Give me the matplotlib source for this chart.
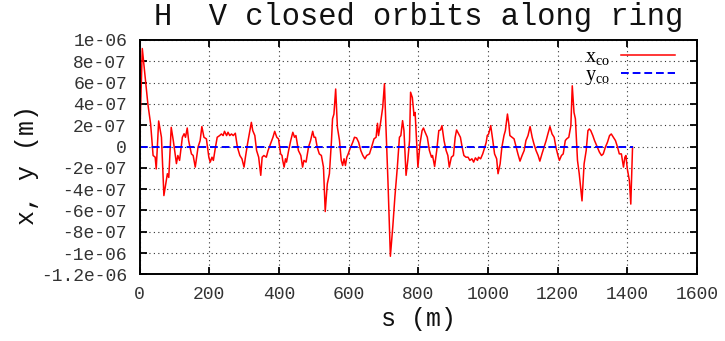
import numpy as np
import matplotlib.pyplot as plt
from matplotlib.ticker import FixedLocator, FixedFormatter

plt.rcParams['mathtext.fontset'] = 'custom'
plt.rcParams['mathtext.rm'] = 'Liberation Serif'
plt.rcParams['mathtext.it'] = 'Liberation Serif'

# position along the ring (m)
s = [0, 8, 24, 32, 39, 45, 48, 55, 63, 70, 74, 80, 84, 91, 97, 106, 110, 115,
     123, 128, 132, 137, 141, 149, 154, 160, 168, 174, 179, 185, 192, 199, 203,
     208, 212, 218, 223, 230, 235, 240, 244, 250, 254, 259, 264, 269, 275, 281,
     288, 294, 300, 304, 310, 315, 321, 325, 331, 336, 342, 348, 352, 357, 364,
     369, 376, 383, 388, 394, 399, 405, 409, 411, 415, 419, 422, 428, 434, 440,
     445, 449, 456, 463, 468, 472, 478, 485, 491, 497, 501, 505, 510, 516, 522,
     528, 533, 539, 545, 551, 554, 558, 563, 568, 574, 579, 583, 587, 591, 595,
     599, 604, 612, 617, 623, 629, 635, 641, 647, 652, 660, 666, 673, 679, 683,
     686, 692, 698, 703, 707, 713, 720, 727, 733, 740, 746, 750, 755, 759, 765,
     770, 775, 778, 783, 788, 791, 796, 799, 805, 811, 815, 819, 826, 832, 838,
     841, 847, 853, 859, 864, 868, 874, 880, 885, 889, 895, 901, 906, 910, 916,
     921, 926, 931, 937, 943, 948, 954, 959, 964, 970, 973, 979, 985, 991, 995,
     998, 1002, 1008, 1014, 1019, 1025, 1029, 1035, 1040, 1046, 1050, 1056, 1060,
     1063, 1069, 1075, 1081, 1086, 1092, 1098, 1104, 1109, 1115, 1121, 1127, 1132,
     1138, 1144, 1149, 1155, 1161, 1167, 1172, 1178, 1184, 1190, 1195, 1201, 1205,
     1211, 1216, 1222, 1226, 1232, 1238, 1242, 1247, 1251, 1257, 1262, 1270, 1276,
     1282, 1287, 1291, 1295, 1301, 1306, 1314, 1320, 1326, 1331, 1337, 1343, 1349,
     1354, 1360, 1366, 1372, 1377, 1383, 1389, 1393, 1396, 1400, 1406, 1410, 1415]

# horizontal closed orbit, in units of 1e-7 m
x_co = [0.0, 9.2, 4.0, 2.1, -0.84, -1.0, -2.1, 2.4, 0.87, -4.6, -3.8, -2.55,
        -2.9, 1.8, 0.56, -1.6, -0.84, -1.3, 0.87, 1.2, 0.87, 1.74, 0.56, -0.69,
        -0.84, -1.93, -0.06, 0.56, 1.87, 0.87, 0.72, -1.0, -1.46, -1.0, -1.3,
        -0.06, 0.87, 1.03, 1.18, 1.03, 1.43, 1.03, 1.34, 1.03, 1.18, 1.03, 1.25,
        -0.06, -0.84, -1.15, -1.93, -1.0, 0.25, 1.18, 2.27, 1.5, 1.03, -0.37,
        -1.0, -2.7, -1.0, -0.84, -1.0, -0.37, 0.25, 0.87, 1.43, 0.87, 0.72,
        -0.69, -0.84, -1.3, -1.93, -1.15, -1.46, -0.37, 0.56, 1.34, 0.87, 1.03,
        -0.37, -0.84, -1.93, -1.3, -1.46, -0.06, 0.56, 1.43, 0.87, 0.87, -0.06,
        -0.69, -0.84, -1.93, -6.1, -3.5, -2.55, 0.56, 2.6, 3.05, 5.4, 1.8, 0.56,
        -1.3, -1.78, -1.15, -1.78, -1.0, -0.69, -0.22, 0.4, 0.87, 0.81, 0.4,
        -0.37, -0.84, -1.15, -0.84, -0.69, -0.06, 0.72, 0.87, 2.18, 1.03, 2.27,
        3.68, 5.9, 2.1, -3.2, -10.3, -7.5, -4.7, -1.93, 0.87, 1.03, 2.43, 1.5,
        -2.7, -1.3, 0.56, 5.1, 4.6, 2.9, 3.2, -0.06, -1.93, 0.25, 1.5, 1.74, 1.4,
        0.87, -0.37, -1.0, -0.84, -1.87, -0.37, 1.5, 1.56, 1.96, 0.56, -0.37,
        -0.84, -1.93, -1.0, -0.84, 0.87, 1.56, 1.18, 0.87, -0.06, -0.84, -1.0,
        -1.0, -1.3, -1.15, -1.46, -1.06, -1.3, -1.0, -1.15, -0.69, -0.06, 0.4,
        1.03, 1.18, 1.96, 0.56, -0.69, -1.15, -2.55, -1.62, -0.06, 1.03, 1.5,
        3.05, 2.12, 1.03, 0.87, 0.72, -0.06, -0.69, -1.37, -0.84, -0.37, 0.56,
        1.03, 1.87, 0.87, 0.25, -0.37, -0.84, -1.37, -0.69, -0.06, 0.56, 1.18,
        1.87, 1.18, 0.87, -0.06, -0.84, -1.3, -0.84, -0.69, 0.56, 0.72, 0.87,
        1.96, 5.7, 3.2, 2.6, -1.3, -2.55, -5.1, -1.62, -0.37, 1.5, 1.65, 1.5,
        1.03, 0.56, -0.06, -0.53, -0.84, -0.69, -0.06, 0.4, 1.03, 1.18, 0.87,
        0.56, -0.06, -0.69, -0.69, -1.93, -1.0, -0.84, -2.1, -3.2, -5.4, -0.06]

# vertical closed orbit (flat)
s_y = [0, 1415]
y_co = [0.0, 0.0]

xticks = [0, 200, 400, 600, 800, 1000, 1200, 1400, 1600]
yticks = [1e-6, 8e-7, 6e-7, 4e-7, 2e-7, 0, -2e-7, -4e-7, -6e-7, -8e-7, -1e-6, -1.2e-6]
ytick_labels = ['1e-06', '8e-07', '6e-07', '4e-07', '2e-07', '0', '-2e-07',
                '-4e-07', '-6e-07', '-8e-07', '-1e-06', '-1.2e-06']

mono = 'Liberation Mono'

fig = plt.figure(figsize=(7.25, 3.41), dpi=100)
ax = fig.add_axes([139.5 / 725, 1 - 274.4 / 341, 557.5 / 725, 234.4 / 341])

ax.plot(s, np.array(x_co) * 1e-7, color='#ff0000', lw=1.1, label='x$_\\mathrm{co}$')
ax.plot(s_y, y_co, color='#0000ff', lw=1.4, dashes=(4, 2), label='y$_\\mathrm{co}$')

ax.set_xlim(0, 1600)
ax.set_ylim(-1.2e-6, 1e-6)
ax.xaxis.set_major_locator(FixedLocator(xticks))
ax.yaxis.set_major_locator(FixedLocator(yticks))
ax.yaxis.set_major_formatter(FixedFormatter(ytick_labels))

ax.tick_params(direction='in', length=5, width=1.3, top=True, right=True,
               labelsize=13, labelcolor='#333333')
ax.tick_params(axis='y', pad=9)
ax.tick_params(axis='x', pad=8)
for lab in ax.get_yticklabels() + ax.get_xticklabels():
    lab.set_family(mono)
for sp in ax.spines.values():
    sp.set_linewidth(1.4)

ax.grid(True, color='#333333', lw=0.8, linestyle=(0, (1, 3)))

ax.set_title('H  V closed orbits along ring', family=mono, fontsize=22,
             pad=11, color='#111111')
ax.set_xlabel('s (m)', family=mono, fontsize=18, labelpad=3, color='#111111')
fig.text(27 / 725, 1 - 165 / 341, 'x, y (m)', ha='center', va='center',
         rotation=90, family=mono, fontsize=18, color='#111111')

ax.legend(loc='upper right', bbox_to_anchor=(675 / 725, 1 - 48 / 341),
          bbox_transform=fig.transFigure, frameon=False, markerfirst=False,
          prop={'family': 'Liberation Serif', 'size': 14.5}, borderpad=0,
          borderaxespad=0, handlelength=2.7, handletextpad=0.55, labelspacing=-0.05)

fig.savefig('out.png', dpi=100)
